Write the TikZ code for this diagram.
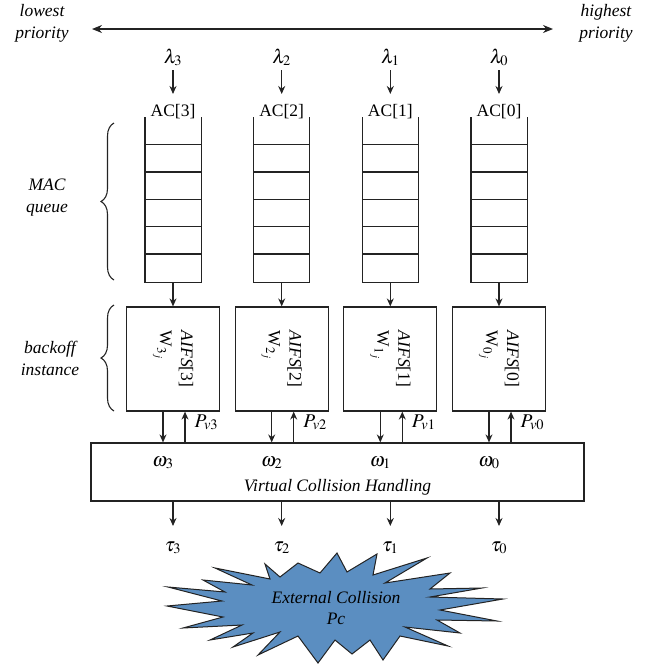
\documentclass[tikz,border=0pt]{standalone}
\usepackage{mathptmx}
\usepackage{fontspec}
\setmainfont{Liberation Serif}
\usetikzlibrary{arrows.meta,decorations.pathreplacing}
\definecolor{burst}{RGB}{91,142,193}
\definecolor{ink}{RGB}{35,35,35}
\begin{document}
\begin{tikzpicture}[x=1pt,y=-1pt,
  font=\fontsize{17.5}{21}\selectfont,
  line width=1.2pt, draw=ink,
  arr/.style={-{Stealth[length=8pt,width=7pt]}, line width=1.2pt, draw=ink},
  lbl/.style={inner sep=0pt, anchor=base},
  mth/.style={inner sep=0pt, anchor=base, font=\fontsize{19.5}{22}\selectfont},
  qnode/.style={minimum width=55pt, minimum height=164pt, inner sep=0pt},
  bbox/.style={draw=ink, line width=1.2pt, minimum width=93pt, minimum height=104pt, inner sep=0pt},
  side/.style={inner sep=0pt, align=center, font=\fontsize{17.5}{22}\selectfont\itshape},
  brc/.style={decorate, decoration={brace, amplitude=13pt}, line width=1.1pt, draw=ink}]
\useasboundingbox (0,0) rectangle (656,665);

% priority axis
\node[side] (low) at (42,23) {lowest\\priority};
\node[side] (high) at (606,23) {highest\\priority};
\coordinate (pl) at (92,29);
\coordinate (pr) at (553,29);
\draw[{Stealth[length=10pt,width=8pt]}-{Stealth[length=10pt,width=8pt]}, line width=1.2pt, draw=ink] (pl) -- (pr);

% columns
\foreach \i/\cx in {3/173,2/281.7,1/390.3,0/499}{
  \node[mth] (lam\i) at (\cx,63) {$\lambda_{\i}$};
  \coordinate (ls\i) at (\cx,70);
  \coordinate (le\i) at (\cx,94);
  \draw[arr] (ls\i) -- (le\i);
  \node[lbl] (ac\i) at (\cx,116) {AC[\i]};
  \node[qnode] (q\i) at (\cx,200) {};
  \draw (q\i.north west) -- (q\i.south west) -- (q\i.south east) -- (q\i.north east);
  \foreach \k in {1,...,5}{
    \draw ([yshift=-\k*27.33pt]q\i.north west) -- ([yshift=-\k*27.33pt]q\i.north east);
  }
  \node[bbox] (b\i) at (\cx,359) {};
  \node[rotate=-90, align=left, inner sep=0pt] (t\i) at (\cx,359) {\textit{AIFS}[\i]\\W$_{\i_j}$};
  \draw[arr] (q\i.south) -- (b\i.north);
  \node[mth] (w\i) at (\cx-10,466) {$\omega_{\i}$};
  \node[inner sep=0pt, anchor=base west, font=\fontsize{19.5}{22}\selectfont] (p\i) at (\cx+21,427) {$P_{v\i}$};
  \coordinate (te\i) at (\cx,526);
  \node[mth] (tau\i) at (\cx,551) {$\tau_{\i}$};
}

% virtual collision handling
\node[draw=ink, line width=1.2pt, minimum width=493pt, minimum height=58pt, inner sep=0pt] (vch) at (337.5,472) {};
\node[lbl, font=\fontsize{17.5}{21}\selectfont\itshape] (vcht) at (337.5,491) {Virtual Collision Handling};

\foreach \i in {3,2,1,0}{
  \draw[arr] ([xshift=-10pt]b\i.south) -- ([xshift=-10pt]b\i.south |- vch.north);
  \draw[arr] ([xshift=12pt]b\i.south |- vch.north) -- ([xshift=12pt]b\i.south);
  \draw[arr] (vch.south -| te\i) -- (te\i);
}

% braces
\draw[brc] (114,280) -- (114,123);
\node[side] (macq) at (47,198) {MAC\\queue};
\draw[brc] (114,411) -- (114,305);
\node[side] (boi) at (50,358) {backoff\\instance};

% external collision burst
\draw[fill=burst, draw=ink, line width=1pt, line join=miter, miter limit=20] plot coordinates {
 (168,587) (225,592) (203,580) (252,585) (215,568) (270,579) (265,564) (280,577)
 (298,563) (320,573) (337,553) (347,572) (377,554) (373,575) (427,558) (385,583)
 (450,573) (430,589) (482,588) (430,597) (503,599) (440,610) (497,621) (437,620)
 (460,633) (405,627) (448,646) (400,636) (383,660) (370,640) (352,654) (335,640)
 (318,663) (298,636) (258,655) (280,632) (233,647) (253,633) (210,640) (242,625)
 (183,628) (223,617) (167,606) (222,601)} -- cycle;
\node[align=center, inner sep=0pt, font=\fontsize{17.5}{21}\selectfont\itshape] (ext) at (336,608) {External Collision\\Pc};
\end{tikzpicture}
\end{document}
